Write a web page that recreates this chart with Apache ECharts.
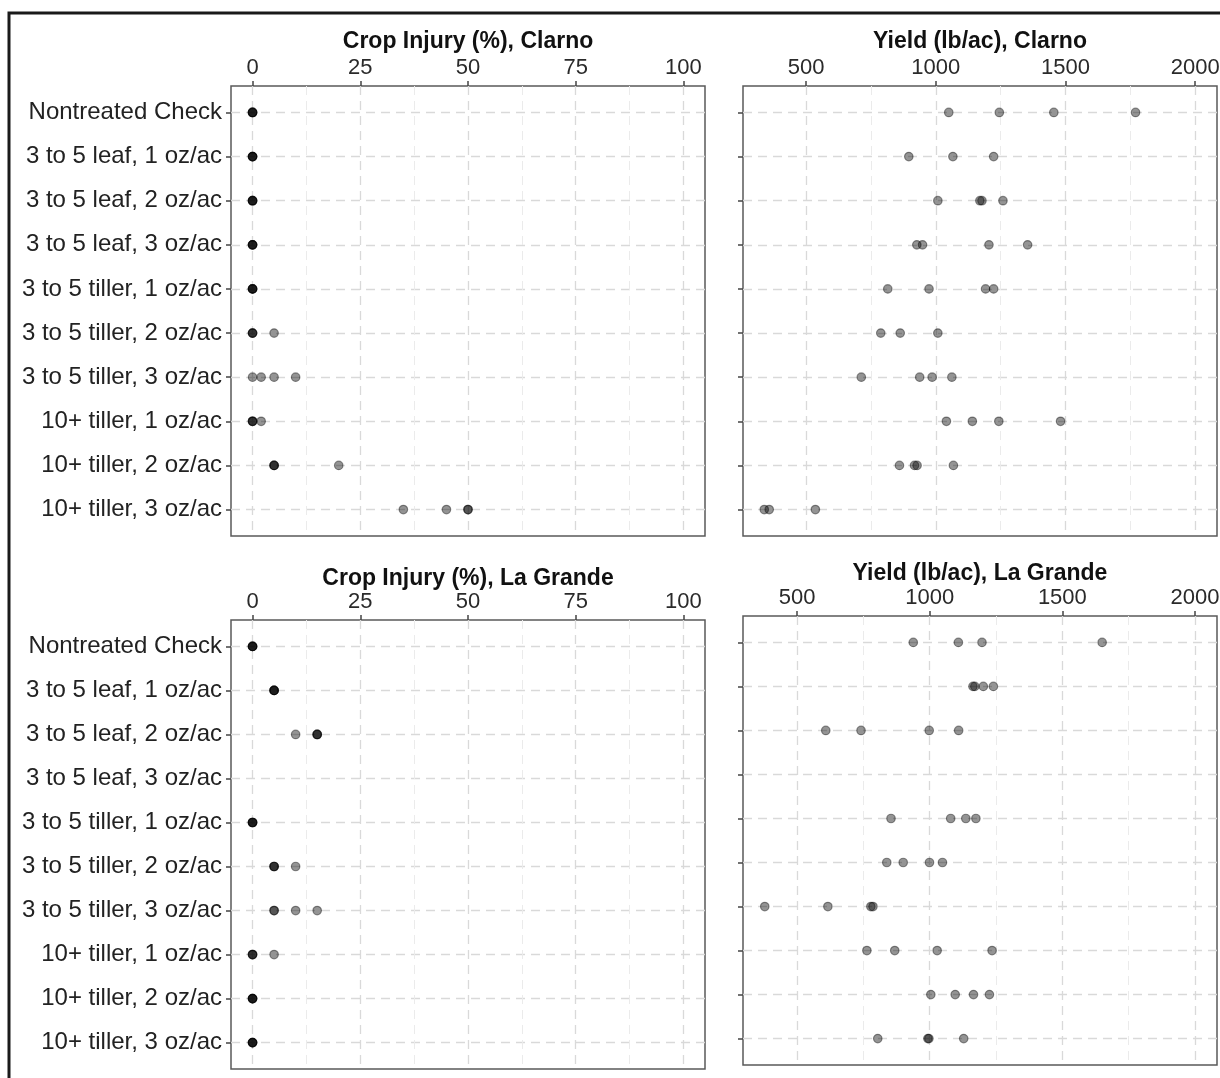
<!DOCTYPE html>
<html><head><meta charset="utf-8">
<script src="https://cdn.jsdelivr.net/npm/echarts@6/dist/echarts.min.js"></script>
<style>html,body{margin:0;padding:0;background:#fff}#c{width:1220px;height:1078px}</style>
</head><body><div id="c"></div>
<script>
const treatments = [
  'Nontreated Check',
  '3 to 5 leaf, 1 oz/ac',
  '3 to 5 leaf, 2 oz/ac',
  '3 to 5 leaf, 3 oz/ac',
  '3 to 5 tiller, 1 oz/ac',
  '3 to 5 tiller, 2 oz/ac',
  '3 to 5 tiller, 3 oz/ac',
  '10+ tiller, 1 oz/ac',
  '10+ tiller, 2 oz/ac',
  '10+ tiller, 3 oz/ac'
];
const injuryTicks = [0, 25, 50, 75, 100];
const injuryMinor = [12.5, 37.5, 62.5, 87.5];
const yieldTicks = [500, 1000, 1500, 2000];
const yieldMinor = [250, 750, 1250, 1750];

const injuryClarno = [
  [0,0,0,0], [0,0,0,0], [0,0,0,0], [0,0,0,0], [0,0,0,0],
  [0,0,0,5], [0,2,5,10], [0,0,0,2], [5,5,5,20], [35,45,50,50]
];
const yieldClarno = [
  [1050,1245,1455,1770],
  [896,1066,1223],
  [1008,1170,1178,1259],
  [927,949,1205,1354],
  [815,974,1192,1223],
  [788,863,1008],
  [713,938,986,1062],
  [1041,1141,1243,1481],
  [860,918,928,1068],
  [339,358,536]
];
const injuryLaGrande = [
  [0,0,0,0], [5,5,5,5], [10,15,15,15], [], [0,0,0,0],
  [5,5,5,10], [5,5,10,15], [0,0,0,5], [0,0,0,0], [0,0,0,0]
];
const yieldLaGrande = [
  [938,1108,1197,1650],
  [1163,1170,1202,1240],
  [608,741,998,1109],
  [],
  [854,1079,1136,1174],
  [838,900,999,1048],
  [378,616,778,786],
  [763,868,1028,1235],
  [1004,1096,1165,1225],
  [804,993,997,1128]
];

const FONT = '"Liberation Sans", Arial, Helvetica, sans-serif';
const panels = [
  {title:'Crop Injury (%), Clarno', data:injuryClarno, box:[231,86,474,450], range:[-5,105], major:injuryTicks, minor:injuryMinor, ylabels:true, gap:33},
  {title:'Yield (lb/ac), Clarno', data:yieldClarno, box:[743,86,474,450], range:[257,2084], major:yieldTicks, minor:yieldMinor, ylabels:false, gap:33},
  {title:'Crop Injury (%), La Grande', data:injuryLaGrande, box:[231,620,474,449], range:[-5,105], major:injuryTicks, minor:injuryMinor, ylabels:true, gap:30},
  {title:'Yield (lb/ac), La Grande', data:yieldLaGrande, box:[743,616,474,449], range:[296,2083], major:yieldTicks, minor:yieldMinor, ylabels:false, gap:31}
];
const rowIdx = treatments.map((_, i) => i);

const grid = [], xAxis = [], yAxis = [], series = [];
panels.forEach((p, i) => {
  grid.push({left:p.box[0], top:p.box[1], width:p.box[2], height:p.box[3], show:true,
    borderColor:'#5a5a5a', borderWidth:1.5, backgroundColor:'transparent', containLabel:false, outerBoundsMode:'none'});
  xAxis.push({
    gridIndex:i, type:'value', position:'top', min:p.range[0], max:p.range[1],
    name:p.title, nameLocation:'middle', nameGap:p.gap,
    nameTextStyle:{fontSize:23, fontWeight:'bold', color:'#111', fontFamily:FONT},
    axisLine:{show:false, onZero:false},
    axisTick:{show:true, customValues:p.major, length:5, lineStyle:{color:'#444', width:1.5}},
    axisLabel:{show:true, customValues:p.major, margin:7, fontSize:22, color:'#2a2a2a', fontFamily:FONT,
      formatter:v => String(v)},
    splitLine:{show:true, lineStyle:{color:'#d9d9d9', width:1.3, type:[9,6]}}
  });
  xAxis.push({
    gridIndex:i, type:'value', position:'top', min:p.range[0], max:p.range[1],
    axisLine:{show:false, onZero:false},
    axisTick:{show:false, customValues:p.minor},
    axisLabel:{show:false, customValues:p.minor},
    splitLine:{show:true, lineStyle:{color:'#ebebeb', width:1, type:[9,6]}}
  });
  yAxis.push({
    gridIndex:i, type:'value', position:'left', min:-0.6, max:9.6, inverse:true,
    axisLine:{show:false, onZero:false},
    axisTick:{show:true, customValues:rowIdx, length:5, lineStyle:{color:'#444', width:1.5}},
    axisLabel:{show:p.ylabels, customValues:rowIdx, formatter:v => treatments[v], margin:9,
      fontSize:24, color:'#222', fontFamily:FONT},
    splitLine:{show:true, lineStyle:{color:'#d9d9d9', width:1.3, type:[9,6]}}
  });
  const pts = [];
  p.data.forEach((reps, r) => reps.forEach(v => pts.push([v, r])));
  series.push({
    type:'scatter', xAxisIndex:2*i, yAxisIndex:i, data:pts, symbol:'circle', symbolSize:8.5,
    itemStyle:{color:'rgba(0,0,0,0.42)', borderColor:'rgba(0,0,0,0.42)', borderWidth:1.2, opacity:1},
    emphasis:{disabled:true}, silent:true
  });
});

const chart = echarts.init(document.getElementById('c'), null, {renderer:'canvas'});
chart.setOption({
  animation:false,
  backgroundColor:'#fff',
  grid, xAxis, yAxis, series,
  graphic:[{type:'rect', shape:{x:9, y:13, width:1400, height:1300}, style:{fill:'none', stroke:'#1a1a1a', lineWidth:3}, z:100}]
});
</script>
</body></html>
